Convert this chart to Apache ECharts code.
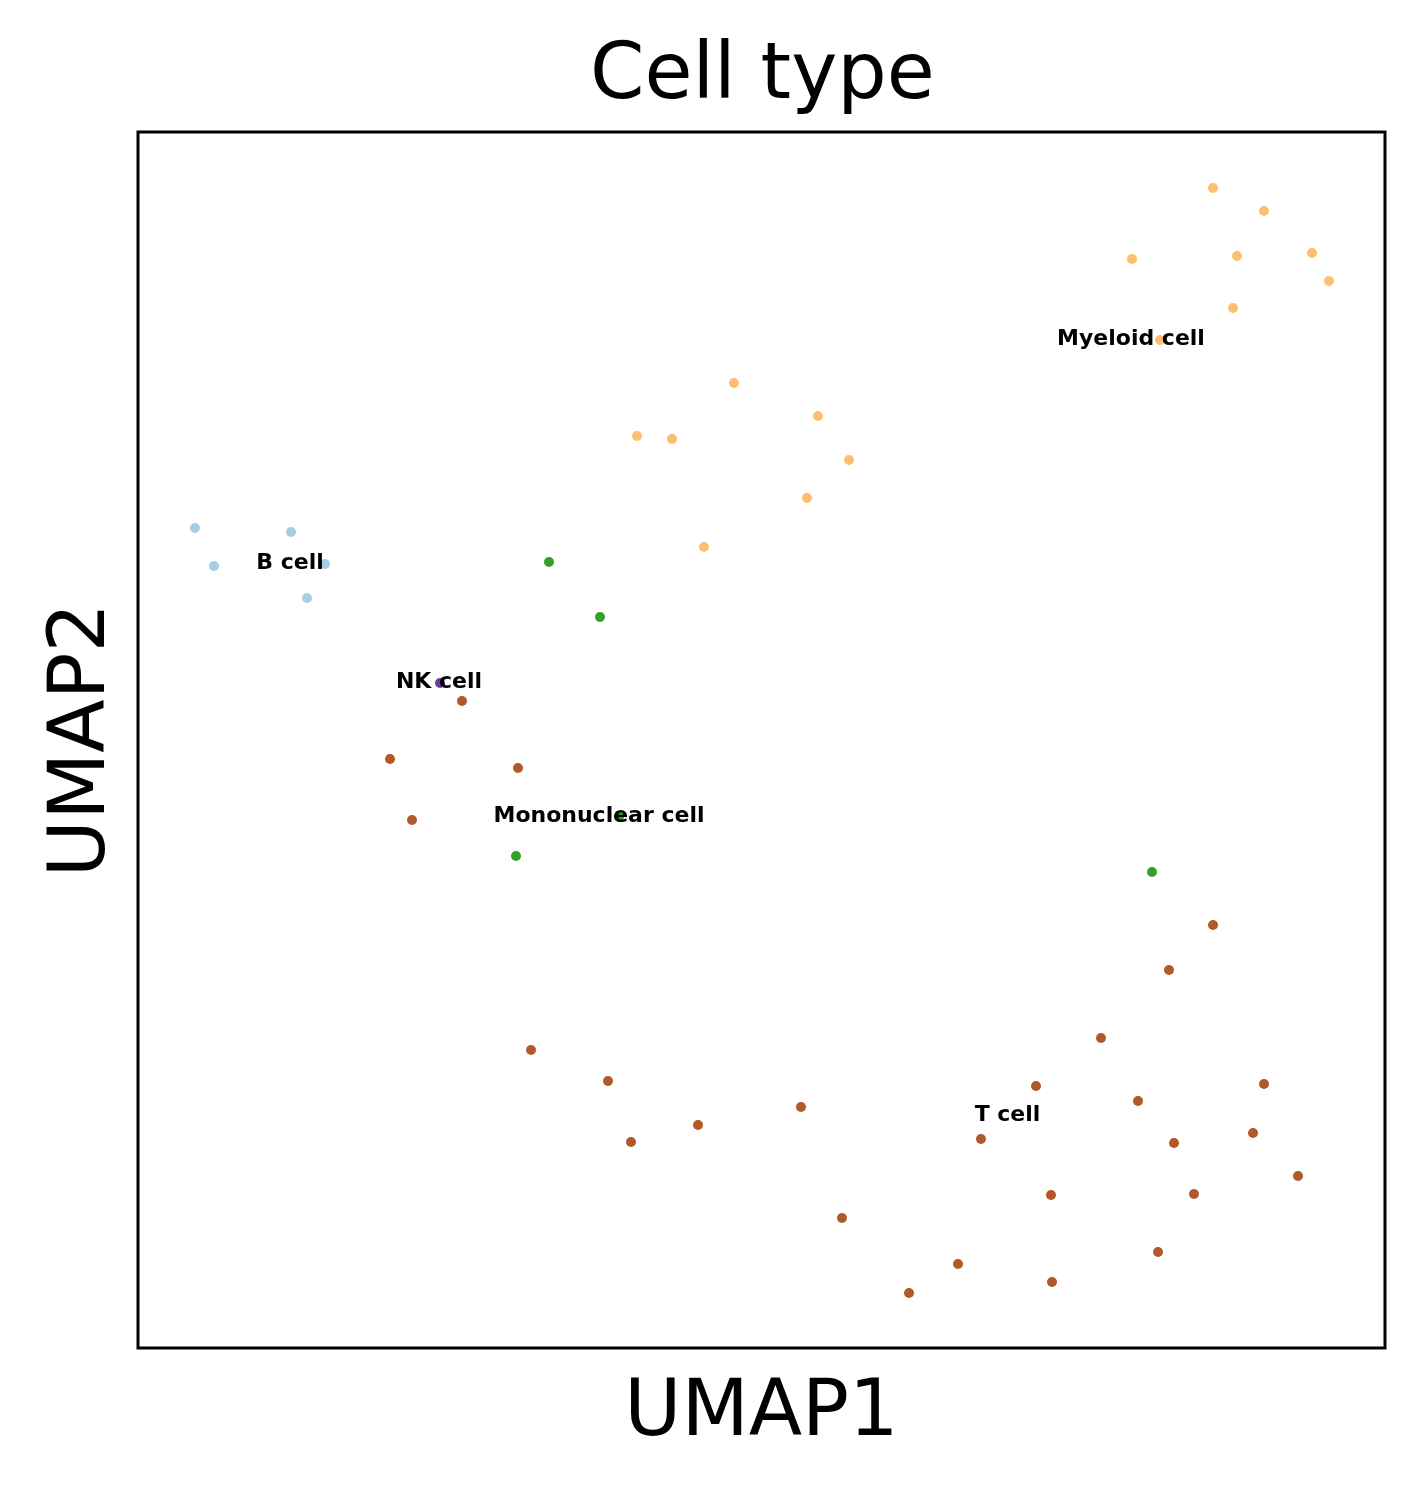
<!DOCTYPE html>
<html>
<head>
<meta charset="utf-8">
<script src="https://cdn.jsdelivr.net/npm/echarts@6/dist/echarts.min.js"></script>
<style>
  html, body { margin: 0; padding: 0; background: #fff; }
  #umap { width: 1426px; height: 1487px; }
</style>
</head>
<body>
<div id="umap"></div>
<script>
// embedding coords per cell type [UMAP1, UMAP2]
const cellTypes = ['B cell', 'Mononuclear cell', 'Myeloid cell', 'NK cell', 'T cell']
const typeColors = ['#a6cee3', '#33a02c', '#fdbf6f', '#6a3d9a', '#b15928']

const bCell = [[57, 820], [153, 816], [76, 782], [187, 784], [169, 750]]
const mononuclearCell = [[411, 786], [462, 731], [481, 531], [378, 492], [1014, 476]]
const myeloidCell = [
  [1075, 1160], [1126, 1137], [994, 1089], [1099, 1092], [1174, 1095],
  [1191, 1067], [1095, 1040], [1022, 1008], [596, 965], [680, 932],
  [499, 912], [534, 909], [711, 888], [669, 850], [566, 801]
]
const nkCell = [[302, 665]]
const tCell = [
  [324, 647], [252, 589], [380, 580], [274, 528], [1075, 423],
  [1031, 378], [963, 310], [393, 298], [470, 267], [898, 262],
  [1126, 264], [1000, 247], [663, 241], [560, 223], [493, 206],
  [843, 209], [1036, 205], [1115, 215], [1160, 172], [913, 153],
  [1056, 154], [704, 130], [1020, 96], [820, 84], [914, 66], [771, 55]
]
const groups = [bCell, mononuclearCell, myeloidCell, nkCell, tCell]

function median(arr) {
  const s = arr.slice().sort((a, b) => a - b)
  const m = Math.floor(s.length / 2)
  return s.length % 2 ? s[m] : (s[m - 1] + s[m]) / 2
}

const chart = echarts.init(document.getElementById('umap'))
const series = []
groups.forEach((pts, i) => {
  series.push({
    name: cellTypes[i],
    type: 'scatter',
    symbolSize: 10,
    itemStyle: { color: typeColors[i], opacity: 1 },
    data: pts,
    z: 2
  })
})
// labels "on data" at each group's median
series.push({
  type: 'scatter',
  symbolSize: 2,
  silent: true,
  z: 5,
  itemStyle: { opacity: 0 },
  label: {
    show: true,
    position: [0, 0],
    align: 'center',
    verticalAlign: 'middle',
    formatter: p => p.name,
    fontFamily: 'DejaVu Sans',
    fontWeight: 'bold',
    fontSize: 22,
    color: '#000',
    opacity: 1
  },
  data: groups.map((pts, i) => ({
    name: cellTypes[i],
    value: [median(pts.map(p => p[0])), median(pts.map(p => p[1]))]
  }))
})

chart.setOption({
  animation: false,
  title: {
    text: 'Cell type',
    left: 585,
    top: 34,
    textStyle: { fontFamily: 'DejaVu Sans', fontWeight: 'normal', fontSize: 78, color: '#000' }
  },
  grid: {
    left: 138,
    top: 132,
    width: 1247,
    height: 1216,
    show: true,
    borderColor: '#000',
    borderWidth: 3,
    backgroundColor: '#fff'
  },
  xAxis: {
    type: 'value',
    min: 0,
    max: 1247,
    name: 'UMAP1',
    nameLocation: 'middle',
    nameGap: 28,
    nameTextStyle: { fontFamily: 'DejaVu Sans', fontSize: 78, color: '#000', verticalAlign: 'top' },
    axisLine: { show: false },
    axisTick: { show: false },
    axisLabel: { show: false },
    splitLine: { show: false }
  },
  yAxis: {
    type: 'value',
    min: 0,
    max: 1216,
    name: 'UMAP2',
    nameLocation: 'middle',
    nameGap: 15,
    nameTextStyle: { fontFamily: 'DejaVu Sans', fontSize: 78, color: '#000', verticalAlign: 'bottom' },
    axisLine: { show: false },
    axisTick: { show: false },
    axisLabel: { show: false },
    splitLine: { show: false }
  },
  series: series
})
</script>
</body>
</html>
